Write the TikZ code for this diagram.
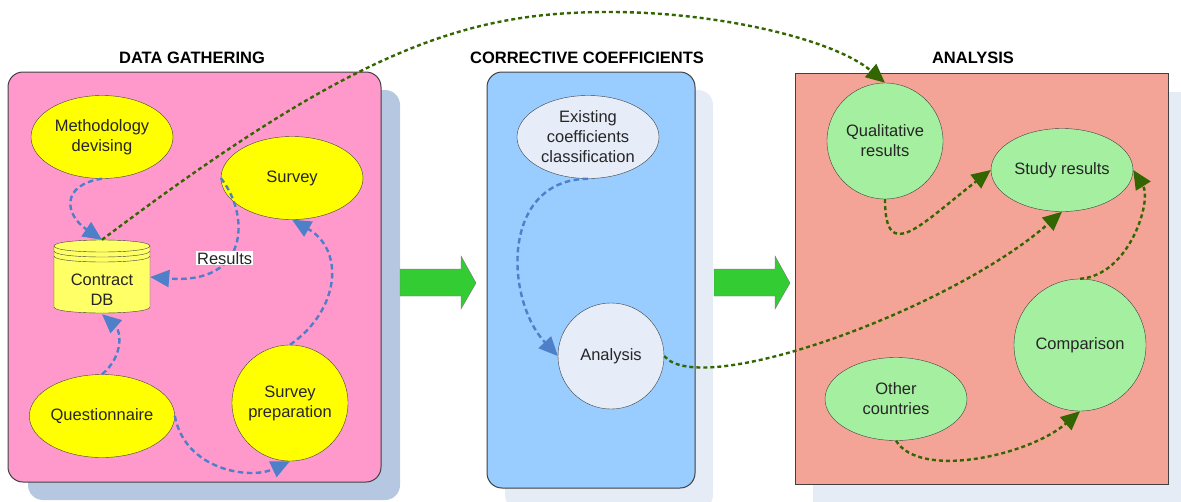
\documentclass[tikz,border=0pt]{standalone}
\usepackage{fontspec}
\setmainfont{Liberation Sans}
\usetikzlibrary{arrows.meta,shapes.geometric}

\definecolor{gatherpink}{HTML}{FF99CC}
\definecolor{coefblue}{HTML}{99CCFF}
\definecolor{analysisred}{HTML}{F4A497}
\definecolor{darkshadow}{HTML}{B5C7E1}
\definecolor{paleshadow}{HTML}{E5ECF6}
\definecolor{nodeyellow}{HTML}{FFFF00}
\definecolor{dbyellow}{HTML}{FFFF66}
\definecolor{nodegrey}{HTML}{E6ECF8}
\definecolor{nodegreen}{HTML}{A4F0A0}
\definecolor{flowblue}{HTML}{4D80C8}
\definecolor{flowgreen}{HTML}{336600}
\definecolor{blockgreen}{HTML}{33CC33}
\definecolor{rimgrey}{HTML}{404040}

\tikzset{
  txt/.style={font=\fontsize{16.5}{20}\selectfont, text=black!85, align=center},
  heading/.style={font=\fontsize{16.5}{20}\selectfont\bfseries},
  oval/.style={txt, ellipse, draw=rimgrey, inner sep=0pt, minimum width=142, minimum height=83},
  disc/.style={txt, circle, draw=rimgrey, inner sep=0pt},
  blueflow/.style={draw=flowblue, line width=2.4pt, dash pattern=on 5.5pt off 3.5pt, -{Triangle[length=19pt,width=17pt]}},
  greenflow/.style={draw=flowgreen, line width=2.4pt, dash pattern=on 4pt off 3pt, -{Triangle[length=19pt,width=17pt]}}
}

\begin{document}
\begin{tikzpicture}[x=1pt,y=-1pt]
   \useasboundingbox (0,0) rectangle (1181,501);
   \clip (0,0) rectangle (1181,501);

   % shadows and panels
   \fill[darkshadow, rounded corners=15] (28,90) rectangle (400,500);
   \fill[paleshadow, rounded corners=15] (505,90) rectangle (713,510);
   \fill[paleshadow] (813,92) rectangle (1190,510);
   \draw[rimgrey, line width=1pt, fill=gatherpink, rounded corners=15] (8,72) rectangle (381,482);
   \draw[rimgrey, line width=1pt, fill=coefblue, rounded corners=15] (487,72) rectangle (695,488);
   \draw[rimgrey, line width=1pt, fill=analysisred] (795,73) rectangle (1168,484);

   \node[heading] (gtitle) at (192,58) {DATA GATHERING};
   \node[heading] (ctitle) at (587,58) {CORRECTIVE COEFFICIENTS};
   \node[heading] (atitle) at (973,58) {ANALYSIS};

   % block arrows between the panels
   \foreach \ax in {400,714}
     \draw[rimgrey!70, fill=blockgreen] (\ax,269) -- (\ax+61,269) -- (\ax+61,256) -- (\ax+76,283)
        -- (\ax+61,309) -- (\ax+61,296) -- (\ax,296) -- cycle;

   \begin{scope}
     % data gathering
     \draw[rimgrey, fill=dbyellow] (54,246) -- (54,307) .. controls (54,315) and (150,315) .. (150,307)
        -- (150,246) .. controls (150,238) and (54,238) .. (54,246) -- cycle;
     \foreach \ry in {246,251,256}
       \draw[rimgrey] (54,\ry) .. controls (54,\ry+8) and (150,\ry+8) .. (150,\ry);
     \node[minimum width=96, minimum height=74, inner sep=0pt,
           label={[txt, yshift=-13pt]center:Contract\\DB}] (db) at (102,277) {};

     \node[oval, fill=nodeyellow] (method) at (102,137) {Methodology\\devising};
     \node[oval, fill=nodeyellow] (survey) at (292,178) {Survey};
     \node[oval, fill=nodeyellow] (quest) at (102,416) {Questionnaire};
     \node[disc, fill=nodeyellow, minimum size=116] (prep) at (290,403) {Survey\\preparation};

     \draw[blueflow] (method.south) .. controls (60,185) and (65,215) .. (db.north);
     \draw[blueflow] (survey.west) .. controls (250,215) and (250,285) .. (db.east)
        node[txt, pos=0.62, fill=white, inner sep=1pt] (results) {Results};
     \draw[blueflow] (quest.north) .. controls (125,355) and (120,330) .. (db.south);
     \draw[blueflow] (quest.east) .. controls (185,470) and (250,480) .. (prep.south);
     \draw[blueflow] (prep.north) .. controls (340,310) and (345,250) .. (survey.south);
   \end{scope}

   \begin{scope}
     % corrective coefficients
     \node[oval, fill=nodegrey] (exist) at (588,137) {Existing\\coefficients\\classification};
     \node[disc, fill=nodegrey, minimum size=106] (analysis) at (611,356) {Analysis};
     \draw[blueflow] (exist.south) .. controls (500,180) and (505,300) .. (analysis.west);
   \end{scope}

   \begin{scope}
     % analysis
     \node[disc, fill=nodegreen, minimum size=116] (qual) at (885,141) {Qualitative\\results};
     \node[oval, fill=nodegreen] (study) at (1062,170) {Study results};
     \node[disc, fill=nodegreen, minimum size=132] (comp) at (1080,345) {Comparison};
     \node[oval, fill=nodegreen] (other) at (896,399) {Other\\countries};

     \draw[greenflow] (qual.south) .. controls (885,265) and (920,225) .. (study.west);
     \draw[greenflow] (comp.north) .. controls (1130,275) and (1152,200) .. (study.east);
     \draw[greenflow] (other.south) .. controls (920,480) and (1030,455) .. (comp.south);
   \end{scope}

   % links between the panels
   \draw[greenflow] (db.north) .. controls (360,45) and (470,12) .. (610,12)
      .. controls (720,12) and (835,40) .. (qual.north);
   \draw[greenflow] (analysis.east) .. controls (700,400) and (950,310) .. (study.south);

 \end{tikzpicture}
\end{document}
